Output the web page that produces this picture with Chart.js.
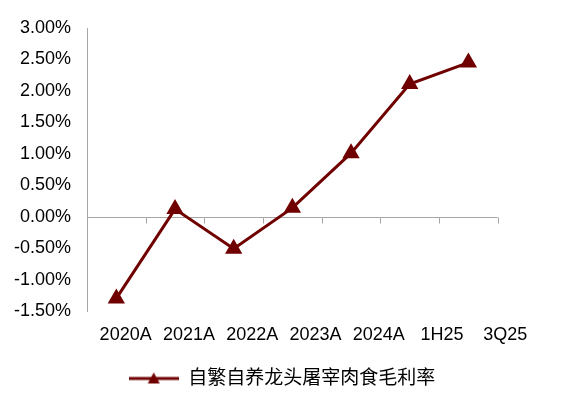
<!DOCTYPE html>
<html>
<head>
<meta charset="utf-8">
<script src="https://cdn.jsdelivr.net/npm/chart.js@4"></script>
<style>
  html, body { margin: 0; padding: 0; background: #fff; }
  #wrap { width: 564px; height: 411px; }
</style>
</head>
<body>
<div id="wrap"><canvas id="chart"></canvas></div>
<script>
const categories = ['2020A', '2021A', '2022A', '2023A', '2024A', '1H25', '3Q25'];
const marginValues = [-1.30, 0.12, -0.51, 0.14, 1.01, 2.11, 2.45];
const seriesName = '自繁自养龙头屠宰肉食毛利率';
const yTicks = [-1.5, -1.0, -0.5, 0.0, 0.5, 1.0, 1.5, 2.0, 2.5, 3.0];

const lineColor = '#700000';
const axisColor = '#a6a6a6';
const fontFamily = "'Liberation Sans', Arial, 'Noto Sans CJK SC', sans-serif";

// legend icon: short line with a triangle in the middle
function legendIcon() {
  const c = document.createElement('canvas');
  c.width = 50; c.height = 14;
  const g = c.getContext('2d');
  g.strokeStyle = lineColor;
  g.lineWidth = 3;
  g.beginPath(); g.moveTo(0, 7); g.lineTo(50, 7); g.stroke();
  g.fillStyle = lineColor;
  g.beginPath(); g.moveTo(25, 1); g.lineTo(31, 12); g.lineTo(19, 12); g.closePath(); g.fill();
  return c;
}

// zero line with category tick marks
const zeroAxis = {
  id: 'zeroAxis',
  beforeDatasetsDraw(chart) {
    const x = chart.scales.x, y = chart.scales.y;
    const ctx = chart.ctx;
    const y0 = Math.round(y.getPixelForValue(0)) + 0.5;
    ctx.save();
    ctx.strokeStyle = axisColor;
    ctx.lineWidth = 1;
    ctx.beginPath();
    ctx.moveTo(x.getPixelForValue(-0.5), y0);
    ctx.lineTo(x.getPixelForValue(categories.length - 0.5), y0);
    for (let i = 0; i <= categories.length; i++) {
      const px = Math.round(x.getPixelForValue(i - 0.5)) + 0.5;
      ctx.moveTo(px, y0);
      ctx.lineTo(px, y0 + 6);
    }
    ctx.stroke();
    ctx.restore();
  }
};

// center the legend on the whole canvas, not on the padded box
const legendCenter = {
  id: 'legendCenter',
  afterLayout(chart) {
    const l = chart.legend;
    const shift = (chart.width - (l.left + l.right)) / 2;
    l.left += shift;
    l.right += shift;
  }
};

new Chart(document.getElementById('chart'), {
  type: 'line',
  data: {
    labels: categories,
    datasets: [{
      label: seriesName,
      data: marginValues.map((v, i) => ({ x: i, y: v })),
      xAxisID: 'x',
      borderColor: lineColor,
      backgroundColor: lineColor,
      borderWidth: 3,
      pointStyle: 'triangle',
      pointRadius: 7,
      pointBackgroundColor: lineColor,
      pointBorderColor: lineColor,
      tension: 0
    }]
  },
  options: {
    responsive: true,
    maintainAspectRatio: false,
    animation: false,
    layout: { padding: { left: 14, right: 34, top: 28, bottom: 13 } },
    plugins: {
      tooltip: { enabled: false },
      legend: {
        position: 'bottom',
        labels: {
          usePointStyle: true,
          pointStyleWidth: 50,
          padding: 25,
          color: '#000',
          font: { family: fontFamily, size: 19 },
          generateLabels: (chart) => [{
            text: seriesName,
            pointStyle: legendIcon(),
            fillStyle: lineColor,
            strokeStyle: lineColor,
            lineWidth: 0,
            datasetIndex: 0
          }]
        }
      }
    },
    scales: {
      x: {
        type: 'linear',
        display: false,
        min: -0.5,
        max: 7.05
      },
      xl: {
        type: 'category',
        position: 'bottom',
        labels: categories,
        offset: true,
        grid: { display: false, drawTicks: false },
        border: { display: false },
        afterFit: (axis) => { axis.height = 33; axis.paddingLeft = 0; axis.paddingRight = 0; },
        ticks: {
          color: '#000',
          padding: 13,
          labelOffset: 7,
          maxRotation: 0,
          autoSkip: false,
          font: { family: fontFamily, size: 18 }
        }
      },
      y: {
        min: -1.5,
        max: 3.0,
        afterBuildTicks: (axis) => { axis.ticks = yTicks.map(v => ({ value: v })); },
        afterFit: (axis) => { axis.width = 73; },
        grid: { display: false, drawTicks: false },
        border: { display: true, color: axisColor, width: 1 },
        ticks: {
          color: '#000',
          padding: 16,
          font: { family: fontFamily, size: 18 },
          callback: (v) => v.toFixed(2) + '%'
        }
      }
    }
  },
  plugins: [zeroAxis, legendCenter]
});
</script>
</body>
</html>
